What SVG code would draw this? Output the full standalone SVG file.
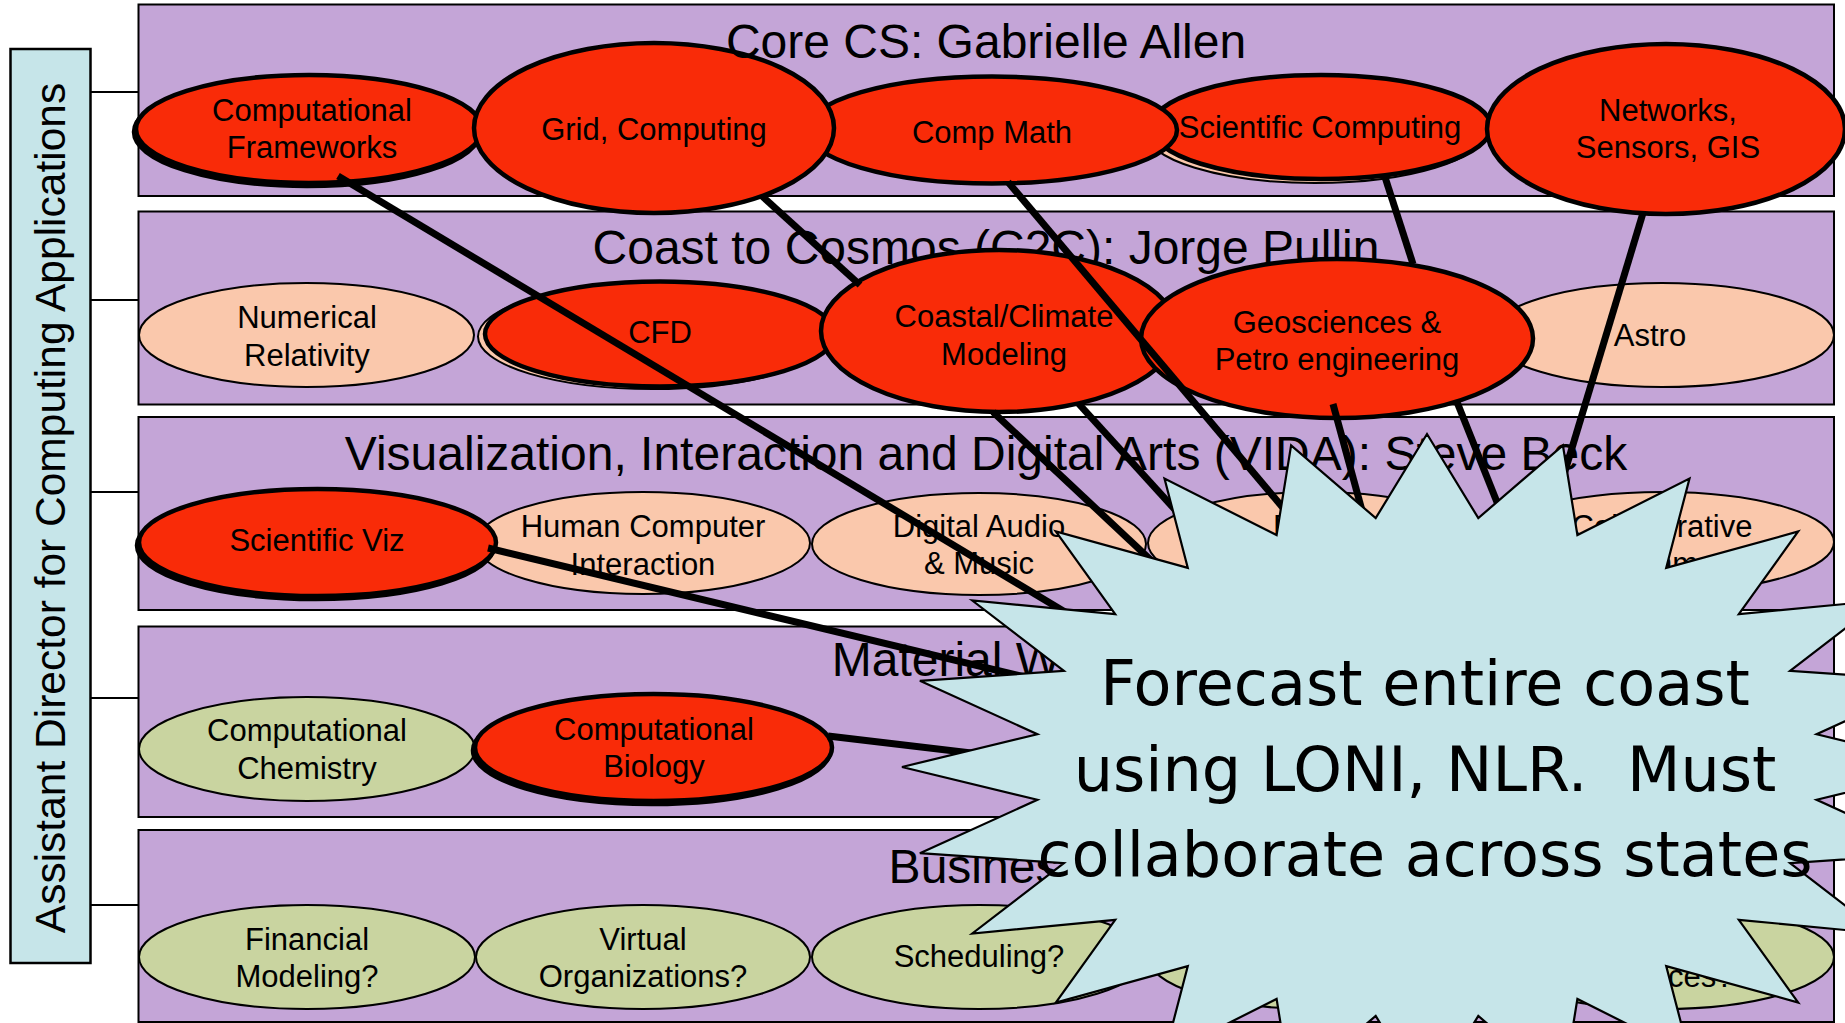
<svg xmlns="http://www.w3.org/2000/svg" width="1845" height="1023" viewBox="0 0 1845 1023">
<style>
.row{fill:#c4a5d7;stroke:#000;stroke-width:2}
.title{font-family:"Liberation Sans",Arial,sans-serif;font-size:48px;fill:#000;text-anchor:middle}
.lbl{font-family:"Liberation Sans",Arial,sans-serif;font-size:31px;fill:#000;text-anchor:middle}
.red{fill:#f92b08;stroke:#000;stroke-width:4.5}
.peach{fill:#fac8ac;stroke:#000;stroke-width:2}
.green{fill:#c9d4a0;stroke:#000;stroke-width:2}
.tree{stroke:#000;stroke-width:2.2}
.link{stroke:#000;stroke-width:7}
.star{fill:#c6e5e9;stroke:#000;stroke-width:2.2;stroke-linejoin:miter}
.startext{font-family:"DejaVu Sans",Verdana,sans-serif;font-size:62px;fill:#000;text-anchor:middle}
</style>
<rect width="1845" height="1023" fill="#fff"/>

<g id="director">
<rect x="10.5" y="49" width="80" height="914" fill="#c6e5e9" stroke="#000" stroke-width="2.5"/>
<text transform="translate(65,508) rotate(-90)" font-family="Liberation Sans, Arial, sans-serif" font-size="42.5" text-anchor="middle" fill="#000">Assistant Director for Computing Applications</text>
</g>

<g id="row-core"><rect class="row" x="138.5" y="4.5" width="1695.5" height="191.5"/></g>
<g id="row-c2c"><rect class="row" x="138.5" y="211.5" width="1695.5" height="193"/>
<text class="title" x="986" y="264">Coast to Cosmos (C2C): Jorge Pullin</text></g>
<g id="row-vida"><rect class="row" x="138.5" y="417" width="1695.5" height="193"/>
<text class="title" x="986" y="470">Visualization, Interaction and Digital Arts (VIDA): Steve Beck</text></g>
<g id="row-material"><rect class="row" x="138.5" y="626.5" width="1695.5" height="190.5"/>
<text class="title" x="986" y="676">Material World</text></g>
<g id="row-business"><rect class="row" x="138.5" y="830" width="1695.5" height="192"/>
<text class="title" x="986" y="883">Business</text></g>

<!-- Row 1 nodes -->
<g id="n-comp-frameworks">
<ellipse class="red" cx="307" cy="132" rx="173" ry="54"/>
<ellipse class="red" cx="309" cy="129" rx="173" ry="54"/>
<text class="lbl" x="312" y="121">Computational</text>
<text class="lbl" x="312" y="158">Frameworks</text>
</g>
<g id="n-sci-computing">
<ellipse class="peach" cx="1315" cy="131" rx="170" ry="52"/>
<ellipse class="red" cx="1321" cy="127" rx="170" ry="52"/>
<text class="lbl" x="1320" y="138">Scientific Computing</text>
</g>
<g id="n-comp-math">
<ellipse class="red" cx="992" cy="130" rx="185" ry="53.5"/>
<text class="lbl" x="992" y="143">Comp Math</text>
</g>
<g id="n-grid">
<ellipse class="red" cx="654" cy="128" rx="180" ry="85"/>
<text class="lbl" x="654" y="140">Grid, Computing</text>
</g>
<g id="n-networks">
<ellipse class="red" cx="1666" cy="129" rx="179" ry="85"/>
<text class="lbl" x="1668" y="121">Networks,</text>
<text class="lbl" x="1668" y="158">Sensors, GIS</text>
</g>
<g id="row-core-title"><text class="title" x="986" y="58">Core CS: Gabrielle Allen</text></g>

<!-- Row 2 nodes -->
<g id="n-numerical-relativity">
<ellipse class="peach" cx="306.5" cy="335" rx="167.5" ry="52"/>
<text class="lbl" x="307" y="328">Numerical</text>
<text class="lbl" x="307" y="366">Relativity</text>
</g>
<g id="n-cfd">
<ellipse class="peach" cx="653" cy="336.5" rx="175" ry="52.5"/>
<ellipse class="red" cx="660" cy="334" rx="175" ry="52.5"/>
<text class="lbl" x="660" y="343">CFD</text>
</g>
<g id="n-astro">
<ellipse class="peach" cx="1662" cy="335" rx="172" ry="52"/>
<text class="lbl" x="1650" y="346">Astro</text>
</g>
<g id="n-coastal">
<ellipse class="red" cx="999" cy="331" rx="178" ry="81"/>
<text class="lbl" x="1004" y="327">Coastal/Climate</text>
<text class="lbl" x="1004" y="365">Modeling</text>
</g>
<g id="n-geosciences">
<ellipse class="red" cx="1337" cy="338.5" rx="196" ry="79.5"/>
<text class="lbl" x="1337" y="333">Geosciences &amp;</text>
<text class="lbl" x="1337" y="370">Petro engineering</text>
</g>

<!-- Row 3 nodes -->
<g id="n-collaborative">
<ellipse class="peach" cx="1662" cy="542" rx="172" ry="50"/>
<text class="lbl" x="1662" y="537">Collaborative</text>
<text class="lbl" x="1662" y="574">Environments</text>
</g>
<g id="n-vida-d">
<ellipse class="peach" cx="1315" cy="543" rx="167" ry="51"/>
<text class="lbl" x="1273" y="537" style="text-anchor:start">D</text>
</g>
<g id="n-digital-audio">
<ellipse class="peach" cx="979" cy="544" rx="167" ry="51"/>
<text class="lbl" x="979" y="537">Digital Audio</text>
<text class="lbl" x="979" y="574">&amp; Music</text>
</g>
<g id="n-hci">
<ellipse class="peach" cx="643" cy="543" rx="167" ry="51"/>
<text class="lbl" x="643" y="537">Human Computer</text>
<text class="lbl" x="643" y="575">Interaction</text>
</g>
<g id="n-sci-viz">
<ellipse class="red" cx="315.5" cy="545.5" rx="178.5" ry="53.5"/>
<ellipse class="red" cx="317.5" cy="542.5" rx="178.5" ry="53.5"/>
<text class="lbl" x="317" y="551">Scientific Viz</text>
</g>

<!-- Row 4 nodes -->
<g id="n-comp-chemistry">
<ellipse class="green" cx="307" cy="749" rx="168" ry="52"/>
<text class="lbl" x="307" y="741">Computational</text>
<text class="lbl" x="307" y="779">Chemistry</text>
</g>
<g id="n-comp-biology">
<ellipse class="red" cx="651.5" cy="750.5" rx="178.5" ry="53.5"/>
<ellipse class="red" cx="653.5" cy="747.5" rx="178.5" ry="53.5"/>
<text class="lbl" x="654" y="740">Computational</text>
<text class="lbl" x="654" y="777">Biology</text>
</g>

<!-- Row 5 nodes -->
<g id="n-financial">
<ellipse class="green" cx="307" cy="957" rx="168" ry="52"/>
<text class="lbl" x="307" y="950">Financial</text>
<text class="lbl" x="307" y="987">Modeling?</text>
</g>
<g id="n-virtual-org">
<ellipse class="green" cx="643" cy="957" rx="167" ry="52"/>
<text class="lbl" x="643" y="950">Virtual</text>
<text class="lbl" x="643" y="987">Organizations?</text>
</g>
<g id="n-scheduling">
<ellipse class="green" cx="979" cy="957" rx="167" ry="52"/>
<text class="lbl" x="979" y="967">Scheduling?</text>
</g>
<g id="n-business-4">
<ellipse class="green" cx="1315" cy="957" rx="167" ry="52"/>
</g>
<g id="n-business-5">
<ellipse class="green" cx="1662" cy="957" rx="172" ry="52"/>
<text class="lbl" x="1668" y="987" style="text-anchor:start">ces?</text>
</g>

<g id="connectors">
<line class="tree" x1="90.5" y1="92" x2="138.5" y2="92"/>
<line class="tree" x1="90.5" y1="300" x2="138.5" y2="300"/>
<line class="tree" x1="90.5" y1="492" x2="138.5" y2="492"/>
<line class="tree" x1="90.5" y1="698" x2="138.5" y2="698"/>
<line class="tree" x1="90.5" y1="905" x2="138.5" y2="905"/>
<line class="link" x1="338" y1="176" x2="1250" y2="723"/>
<line class="link" x1="762" y1="196" x2="860" y2="285"/>
<line class="link" x1="1008" y1="182" x2="1403" y2="650"/>
<line class="link" x1="993" y1="412" x2="1300" y2="700"/>
<line class="link" x1="1078" y1="403" x2="1330" y2="680"/>
<line class="link" x1="1384" y1="174" x2="1413" y2="264"/>
<line class="link" x1="1643" y1="213" x2="1520" y2="620"/>
<line class="link" x1="1333" y1="404" x2="1400" y2="650"/>
<line class="link" x1="1457" y1="402" x2="1560" y2="660"/>
<line class="link" x1="488" y1="548" x2="1250" y2="731"/>
<line class="link" x1="828" y1="736" x2="1200" y2="780"/>
</g>

<g id="callout">
<polygon class="star" points="1952,767 1816.6,734.2 1934.1,680.8 1790.1,670.9 1881.7,600.5 1738.8,614.2 1798.2,531.5 1666.2,567.9 1689.5,478.6 1577.4,535.1 1562.9,445.3 1478.3,518.1 1427,434 1375.7,518.1 1291.1,445.3 1276.6,535.1 1164.5,478.6 1187.8,567.9 1055.8,531.5 1115.2,614.2 972.3,600.5 1063.9,670.9 919.9,680.8 1037.4,734.2 902,767 1037.4,799.8 919.9,853.2 1063.9,863.1 972.3,933.5 1115.2,919.8 1055.8,1002.5 1187.8,966.1 1164.5,1055.4 1276.6,998.9 1291.1,1088.7 1375.7,1015.9 1427,1100 1478.3,1015.9 1562.9,1088.7 1577.4,998.9 1689.5,1055.4 1666.2,966.1 1798.2,1002.5 1738.8,919.8 1881.7,933.5 1790.1,863.1 1934.1,853.2 1816.6,799.8"/>
<text class="startext" x="1425" y="705">Forecast entire coast</text>
<text class="startext" x="1425" y="791" xml:space="preserve">using LONI, NLR.  Must</text>
<text class="startext" x="1425" y="876">collaborate across states</text>
</g>
</svg>
